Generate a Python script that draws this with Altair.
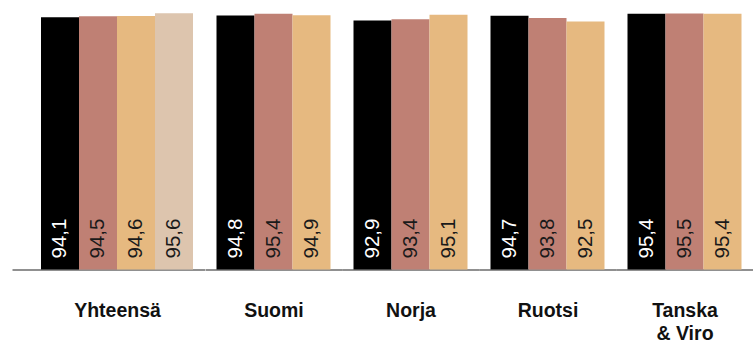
import altair as alt
import pandas as pd

groups = ["Yhteensä", "Suomi", "Norja", "Ruotsi", "Tanska & Viro"]
group_titles = [["Yhteensä"], ["Suomi"], ["Norja"], ["Ruotsi"], ["Tanska", "& Viro"]]
series = ["S1", "S2", "S3", "S4"]
values = [
    [94.1, 94.5, 94.6, 95.6],
    [94.8, 95.4, 94.9],
    [92.9, 93.4, 95.1],
    [94.7, 93.8, 92.5],
    [95.4, 95.5, 95.4],
]
colors = ["#000000", "#bf8074", "#e6b980", "#ddc5ae"]

FONT = "Liberation Sans"
BAR = 38

panels = []
for gi, (g, t, vals) in enumerate(zip(groups, group_titles, values)):
    n = len(vals)
    df = pd.DataFrame({
        "group": g,
        "series": series[:n],
        "value": vals,
        "label": [f"{v:.1f}".replace(".", ",") for v in vals],
    })
    if gi == 0:
        width = 192.5
        pad_outer = (width / BAR - n) / 2
        align = 29 / (width - n * BAR)
        title_x = 29 + n * BAR / 2
    else:
        width = 137
        pad_outer = (width / BAR - n) / 2
        align = 0.5
        title_x = width / 2
    axis_kw = dict(
        labels=False, ticks=False, domain=True, domainColor="#222222",
        domainWidth=1.2, title=t, titleFont=FONT, titleFontSize=19.5,
        titleFontWeight="bold", titleColor="#111111", titlePadding=32,
        titleLineHeight=23, titleX=title_x,
    )
    x = alt.X("series:N", sort=series[:n],
              scale=alt.Scale(paddingInner=0, paddingOuter=pad_outer, align=align),
              axis=alt.Axis(**axis_kw))
    base = alt.Chart(df).properties(width=width, height=268)
    bars = base.mark_bar(size=BAR).encode(
        x=x,
        y=alt.Y("value:Q", scale=alt.Scale(domain=[0, 100], nice=False, zero=True), axis=None),
        color=alt.Color("series:N", scale=alt.Scale(domain=series, range=colors), legend=None),
    )
    text = base.mark_text(angle=270, align="left", baseline="middle", dx=11,
                          font=FONT, fontSize=20.5).encode(
        x=x,
        y=alt.datum(0),
        text="label:N",
        color=alt.condition(alt.datum.series == "S1", alt.value("#ffffff"), alt.value("#1a1a1a")),
    )
    panels.append(alt.layer(bars, text))

chart = alt.hconcat(*panels, spacing=0).resolve_scale(x="independent", color="shared").properties(
    padding={"left": 12, "top": 1.5, "right": 0, "bottom": 0}
).configure(background="#ffffff", view=alt.ViewConfig(strokeWidth=0, stroke="transparent"))

chart.save("out.html", embed_options={"renderer": "svg", "actions": False})
